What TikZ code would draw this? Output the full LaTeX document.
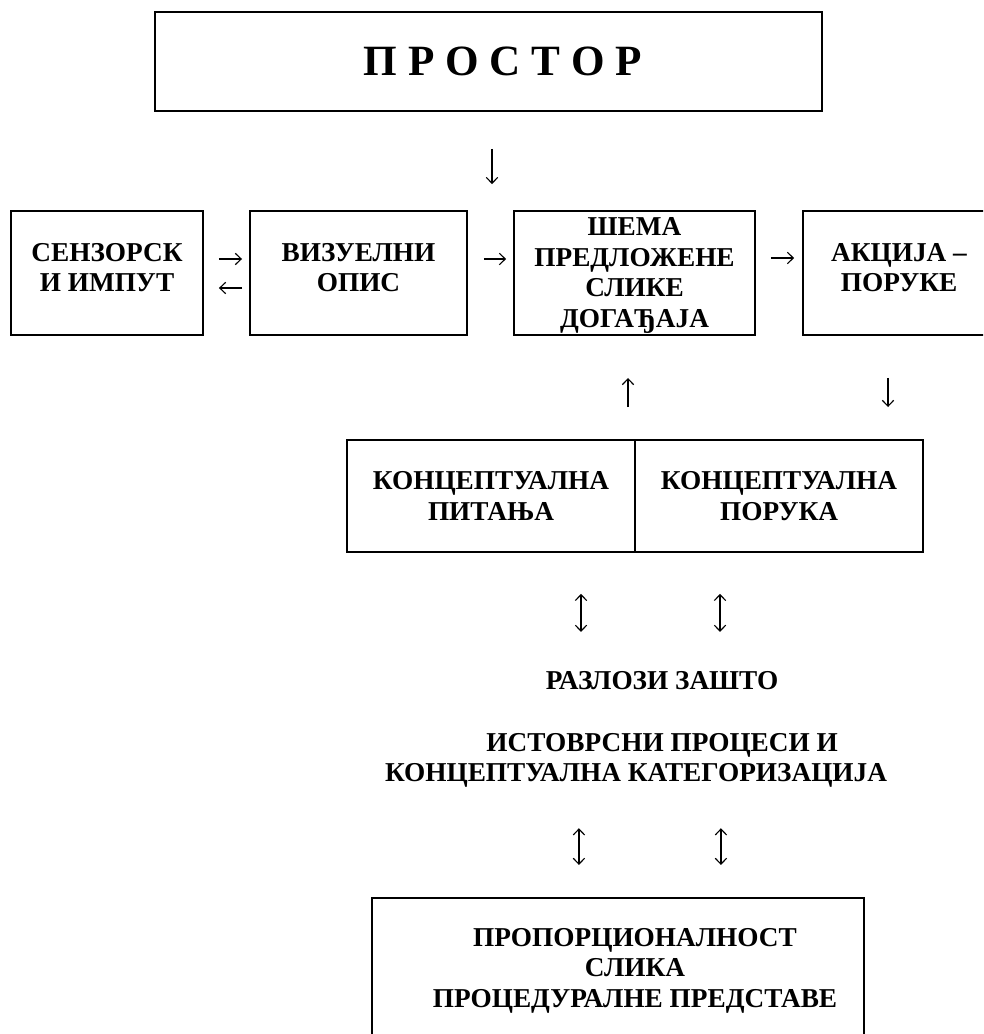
\documentclass[tikz,border=0pt]{standalone}
\usepackage{fontspec}
\setmainfont{Liberation Serif}
\usetikzlibrary{arrows.meta}

\tikzset{
  box/.style={draw,line width=0.8pt,align=center,inner sep=0pt},
  txt/.style={align=center,inner sep=0pt},
  arr/.style={-{Straight Barb[length=2.6pt,width=5pt]},line width=0.5pt},
  dbl/.style={{Straight Barb[length=2.6pt,width=5pt]}-{Straight Barb[length=2.6pt,width=5pt]},line width=0.5pt},
}

\begin{document}
\begin{tikzpicture}[x=0.44pt,y=-0.44pt,font=\fontsize{12}{13.4}\selectfont\bfseries]
\useasboundingbox (0,0) rectangle (983,1034);
\clip (0,0) rectangle (983,1034);

% top box
\node[box,minimum width=293.5pt,minimum height=43.6pt] (prostor) at (488.5,61.5)
  {\fontsize{19}{22}\selectfont\hspace*{12.8pt}П Р О С Т О Р};

% row of boxes, text sits a little off centre
\node[box,minimum width=84.5pt,minimum height=54.6pt] (sen) at (107,273) {};
\node[box,minimum width=95.5pt,minimum height=54.6pt] (viz) at (358.5,273) {};
\node[box,minimum width=106pt,minimum height=54.6pt] (shema) at (634.5,273) {};
\node[box,minimum width=84.5pt,minimum height=54.6pt] (akc) at (899,273) {};
\node[txt] (sentxt) at (107,267.5) {СЕНЗОРСК\\И ИМПУТ};
\node[txt] (viztxt) at (358.5,267.5) {ВИЗУЕЛНИ\\ОПИС};
\node[txt] (shematxt) at (634.5,275.5) {ШЕМА\\ПРЕДЛОЖЕНЕ\\СЛИКЕ\\ДОГАЂАЈА};
\node[txt] (akctxt) at (899,267.5) {АКЦИЈА –\\ПОРУКЕ};

% split box
\node[box,minimum width=126.7pt,minimum height=49.3pt] (kpit) at (491,496) {КОНЦЕПТУАЛНА\\ПИТАЊА};
\node[box,minimum width=126.7pt,minimum height=49.3pt] (kpor) at (779,496) {КОНЦЕПТУАЛНА\\ПОРУКА};

\node[txt,anchor=north] (razl) at (662,671) {РАЗЛОЗИ ЗАШТО};
\node[txt,anchor=north] (istov) at (636,733) {\hspace*{23pt}ИСТОВРСНИ ПРОЦЕСИ И\\КОНЦЕПТУАЛНА КАТЕГОРИЗАЦИЈА};

% bottom box, runs off the page
\node[box,anchor=north west,minimum width=216.5pt,minimum height=89.3pt] (proc) at (371,897) {};
\node[txt,anchor=north] (proctxt) at (635,928) {ПРОПОРЦИОНАЛНОСТ\\СЛИКА\\ПРОЦЕДУРАЛНЕ ПРЕДСТАВЕ};

% arrows
\coordinate (d0) at ([shift={(3.5,0)}]prostor.south);
\draw[arr,shorten <=16.3pt,shorten >=11.4pt] (d0) -- (d0 |- sen.north);

\draw[arr,shorten <=6.6pt,shorten >=3.1pt] ([shift={(0,-14)}]sen.east) -- ([shift={(0,-14)}]viz.west);
\draw[arr,shorten <=3.1pt,shorten >=6.6pt] ([shift={(0,15)}]viz.west) -- ([shift={(0,15)}]sen.east);
\draw[arr,shorten <=7pt,shorten >=3.1pt] ([shift={(0,-14)}]viz.east) -- ([shift={(0,-14)}]shema.west);
\draw[arr,shorten <=6.6pt,shorten >=3.5pt] ([shift={(0,-15)}]shema.east) -- ([shift={(0,-15)}]akc.west);

\coordinate (u1) at ([shift={(-6.5,0)}]shema.south);
\draw[arr,shorten <=14.1pt,shorten >=18.5pt] (u1 |- kpit.north) -- (u1);
\coordinate (d1) at ([shift={(-11,0)}]akc.south);
\draw[arr,shorten <=18.5pt,shorten >=14.1pt] (d1) -- (d1 |- kpor.north);

\coordinate (v1) at ([shift={(90,0)}]kpit.south);
\coordinate (v2) at ([shift={(-59,0)}]kpor.south);
\draw[dbl,shorten <=18pt,shorten >=17.2pt] (v1) -- (v1 |- razl.north);
\draw[dbl,shorten <=18pt,shorten >=17.2pt] (v2) -- (v2 |- razl.north);

\coordinate (w1) at ([shift={(-39,0)}]proc.north);
\coordinate (w2) at ([shift={(103,0)}]proc.north);
\draw[dbl,shorten <=14.1pt,shorten >=17.6pt] (w1) -- (w1 |- istov.south);
\draw[dbl,shorten <=14.1pt,shorten >=17.6pt] (w2) -- (w2 |- istov.south);

\end{tikzpicture}
\end{document}
